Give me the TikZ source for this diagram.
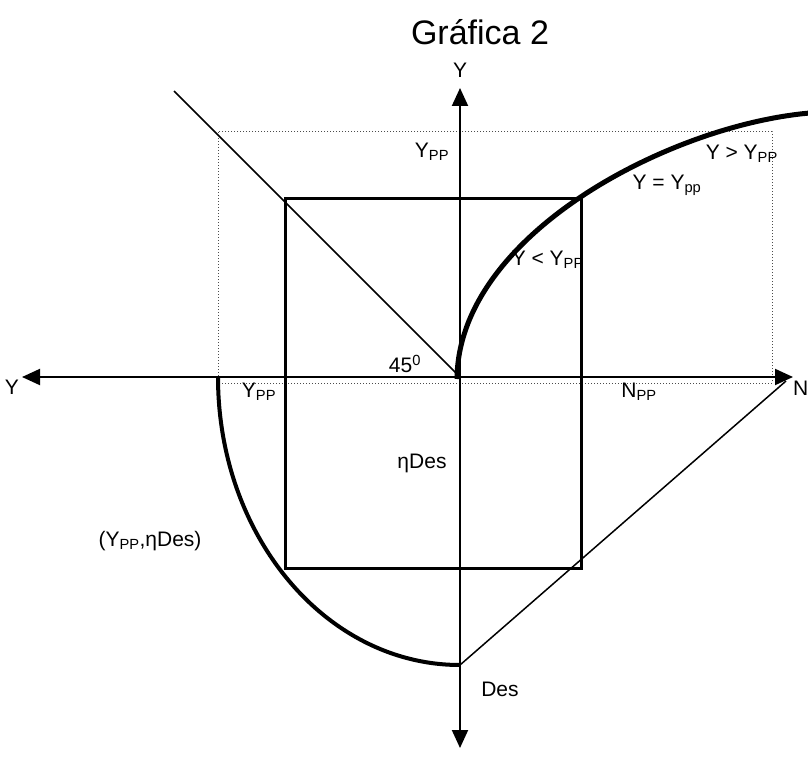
\documentclass[tikz,border=0pt]{standalone}
\usepackage{fontspec}
\setmainfont{Liberation Sans}
\usepackage{tikz}
\usetikzlibrary{arrows.meta}

\begin{document}
\begin{tikzpicture}[
      x=1pt, y=-1pt,
      every node/.style={font=\fontsize{21}{24}\selectfont, inner sep=0pt},
      axis/.style={-{Triangle[length=18pt,width=16pt]}, line width=2pt},
      guide/.style={dotted, line width=1pt, black!70},
      box/.style={line width=3pt},
      ray/.style={line width=1.5pt},
      curve/.style={line width=5pt},
      ttl/.style={font=\fontsize{34}{38}\selectfont},
    ]
    \useasboundingbox (0,0) rectangle (808,757);

    % Key points
    \coordinate (O) at (460,377);
    \coordinate (yTop) at (460,88);
    \coordinate (yBot) at (460,748);
    \coordinate (xLeft) at (22,377);
    \coordinate (xRight) at (793,377);
    \coordinate (diagEnd) at (174,91);
    \coordinate (desPt) at (460,665);
    \coordinate (nEnd) at (786,381);
    \coordinate (ypLeft) at (218,377);
    \coordinate (curveStart) at (457,379);
    \coordinate (curveEnd) at (810,113);

    % Title and axis labels
    \node[ttl] (title) at (480,32) {Gráfica 2};
    \node (yTopLbl) at (460,70) {Y};
    \node (yLeftLbl) at (12,387) {Y};
    \node[anchor=west] (nLbl) at (793,388) {N};

    % Guide boxes
    \draw[guide] (218,132) rectangle (772,383);
    \draw[box] (285,198) rectangle (581,568);

    % Axes
    \draw[axis] (O) -- (yTop);
    \draw[axis] (O) -- (yBot);
    \draw[axis] (O) -- (xLeft);
    \draw[axis] (O) -- (xRight);

    % Rays
    \draw[ray] (O) -- (diagEnd);
    \draw[ray] (desPt) -- (nEnd);

    % Curves
    \draw[curve] (curveStart) .. controls (458,235) and (670,125) .. (curveEnd);
    \draw[curve, line width=4pt] (ypLeft) .. controls (218,536) and (326,665) .. (desPt);

    % Labels
    \node (ypTop) at (432,152) {Y\textsubscript{PP}};
    \node (angle) at (405,364) {45\textsuperscript{0}};
    \node (ypAxis) at (259,392) {Y\textsubscript{PP}};
    \node (npAxis) at (639,392) {N\textsubscript{PP}};
    \node (etaDes) at (422,463) {ηDes};
    \node (point) at (150,541) {(Y\textsubscript{PP},ηDes)};
    \node (des) at (500,689) {Des};
    \node[anchor=east] (gt) at (778,154) {Y > Y\textsubscript{PP}};
    \node (eq) at (667,185) {Y = Y\textsubscript{pp}};
    \node[anchor=east] (lt) at (584,260) {Y < Y\textsubscript{PP}};

\end{tikzpicture}
\end{document}
